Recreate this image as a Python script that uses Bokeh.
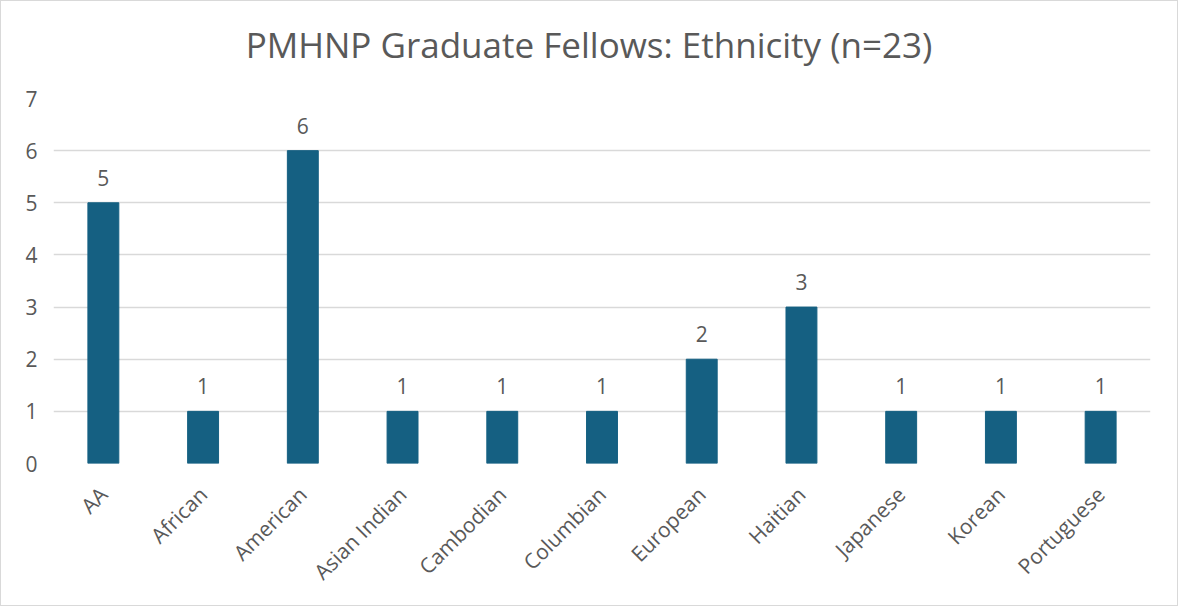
from bokeh.plotting import figure
from bokeh.models import ColumnDataSource, Range1d, FixedTicker, Div
from bokeh.layouts import column
from bokeh.embed import file_html
from bokeh.resources import INLINE
from bokeh.core.properties import value
import math

categories = ["AA", "African", "American", "Asian Indian", "Cambodian", "Columbian",
              "European", "Haitian", "Japanese", "Korean", "Portuguese"]
counts = [5, 1, 6, 1, 1, 1, 2, 3, 1, 1, 1]
y_ticks = [0, 1, 2, 3, 4, 5, 6, 7]
title_text = "PMHNP Graduate Fellows: Ethnicity (n=23)"

FONT = "Open Sans"
GRAY = "#595959"
BAR = "#156082"

src = ColumnDataSource(dict(cat=categories, n=counts, lbl=[str(c) for c in counts]))

title = Div(text=title_text, width=1176, height=81, margin=(0, 0, 0, 0),
            styles={"font-family": FONT, "font-size": "35px", "color": GRAY,
                    "text-align": "center", "line-height": "88px", "white-space": "nowrap",
                    "overflow": "visible"})

p = figure(x_range=categories, y_range=Range1d(0, 7), width=1176, height=523,
           output_backend="svg", toolbar_location=None, margin=(0, 0, 0, 0),
           min_border_left=52, min_border_right=27, min_border_top=16, min_border_bottom=142)

p.vbar(x="cat", top="n", width=0.31, source=src, fill_color=BAR, line_color=BAR)
p.text(x="cat", y="n", text="lbl", source=src, text_align="center", text_baseline="bottom",
       y_offset=-17, text_font=value(FONT), text_font_size="21px", text_color=GRAY)

p.outline_line_color = None
p.xgrid.grid_line_color = None
p.ygrid.grid_line_color = "#d9d9d9"
p.ygrid.grid_line_width = 1.5
p.yaxis.ticker = FixedTicker(ticks=y_ticks)

for ax in (p.xaxis, p.yaxis):
    ax.axis_line_color = None
    ax.major_tick_line_color = None
    ax.minor_tick_line_color = None
    ax.major_tick_out = 0
    ax.major_tick_in = 0
    ax.major_label_text_font = FONT
    ax.major_label_text_font_size = "21px"
    ax.major_label_text_color = GRAY

p.yaxis.major_label_standoff = 16
p.xaxis.major_label_orientation = math.pi / 4
p.xaxis.major_label_standoff = 27
p.x_range.range_padding = 0

layout = column(title, p, spacing=0,
                styles={"border": "1px solid #d9d9d9", "background": "white"})

open("out.html", "w").write(file_html(layout, INLINE))
